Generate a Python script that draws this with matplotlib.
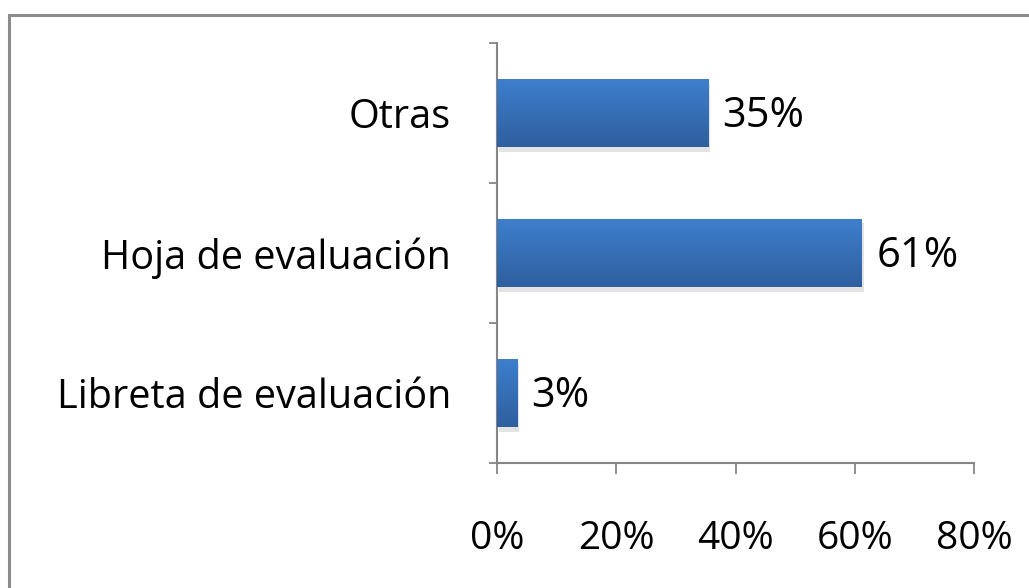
import matplotlib
matplotlib.use("Agg")
from matplotlib import pyplot as plt
from matplotlib.patches import Rectangle
import numpy as np

categorias = ["Libreta de evaluación", "Hoja de evaluación", "Otras"]
valores = [3.4, 61.2, 35.4]
etiquetas = ["3%", "61%", "35%"]
ticks_x = [0, 20, 40, 60, 80]

plt.rcParams['font.family'] = ['Open Sans', 'DejaVu Sans']

fig = plt.figure(figsize=(10.29, 5.88), dpi=100)
ax = fig.add_axes([497/1029, 1-463/588, 477/1029, 420/588])

# borde del gráfico
fig.patches.append(Rectangle((9/1029, -0.1), 1.2, 1-15/588+0.1, transform=fig.transFigure,
                             fill=False, edgecolor="#8c8c8c", linewidth=2.2))

y = np.arange(len(categorias))
bars = ax.barh(y, valores, height=0.49, color="#3a74bf", zorder=2)

# degradado y sombra tipo Excel
grad = np.linspace(0, 1, 100).reshape(-1, 1)
cmap = matplotlib.colors.LinearSegmentedColormap.from_list("g", ["#2f5f9f", "#3e7fcd"])
for b in bars:
    x0, y0, w, h = b.get_x(), b.get_y(), b.get_width(), b.get_height()
    ax.add_patch(Rectangle((x0 + 0.3, y0 - 0.03), w, h, color="#c8c8c8", alpha=0.5, zorder=1, lw=0))
    im = ax.imshow(grad, extent=[x0, x0 + w, y0, y0 + h], aspect="auto", cmap=cmap,
                   origin="lower", zorder=3)
    im.set_clip_path(b)

for yi, v, t in zip(y, valores, etiquetas):
    ax.text(v + 2.4, yi - 0.02, t, va="center", ha="left", fontsize=30)

ax.set_xlim(0, 80)
ax.set_ylim(-0.5, 2.5)
ax.set_xticks(ticks_x)
ax.set_xticklabels([f"{t}%" for t in ticks_x], fontsize=28)
ax.set_yticks(y)
ax.set_yticklabels(categorias, fontsize=28.5)
ax.set_yticks([-0.5, 0.5, 1.5, 2.5], minor=True)

ax.tick_params(axis="y", which="major", length=0, pad=33)
ax.tick_params(axis="y", which="minor", length=6, width=1.3, color="#868686", direction="out")
ax.tick_params(axis="x", length=8, width=1.3, color="#868686", pad=33)

for s in ["top", "right"]:
    ax.spines[s].set_visible(False)
for s in ["left", "bottom"]:
    ax.spines[s].set_color("#868686")
    ax.spines[s].set_linewidth(1.5)

fig.savefig("out.png", dpi=100)
